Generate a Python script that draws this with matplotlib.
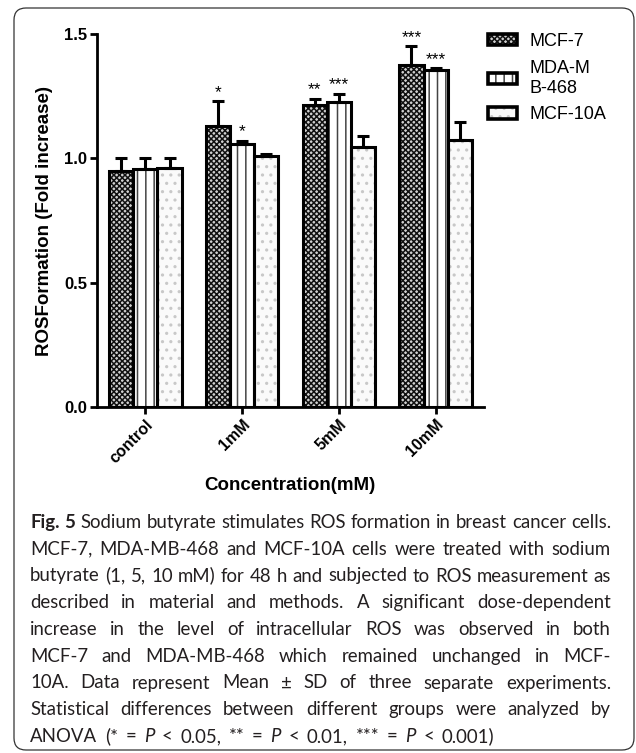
import matplotlib
matplotlib.use('Agg')
import matplotlib.pyplot as plt
import matplotlib.patches as mpatches
from matplotlib.transforms import IdentityTransform
import numpy as np

# data
groups = ['control', '1mM', '5mM', '10mM']
legend_labels = ['MCF-7', 'MDA-M\nB-468', 'MCF-10A']
mcf7 = [0.95, 1.13, 1.215, 1.375]
mcf7_sd = [0.05, 0.10, 0.025, 0.075]
mda = [0.956, 1.057, 1.225, 1.355]
mda_sd = [0.045, 0.013, 0.035, 0.007]
mcf10a = [0.96, 1.01, 1.047, 1.073]
mcf10a_sd = [0.04, 0.006, 0.043, 0.074]
stars_mcf7 = ['', '*', '**', '***']
stars_mda = ['', '*', '***', '***']
stars_mcf10a = ['', '', '', '']

caption = [
    "Fig. 5 Sodium butyrate stimulates ROS formation in breast cancer cells.",
    "MCF-7, MDA-MB-468 and MCF-10A cells were treated with sodium",
    "butyrate (1, 5, 10 mM) for 48 h and subjected to ROS measurement as",
    "described in material and methods. A significant dose-dependent",
    "increase in the level of intracellular ROS was observed in both",
    "MCF-7 and MDA-MB-468 which remained unchanged in MCF-",
    "10A. Data represent Mean \u00b1 SD of three separate experiments.",
    "Statistical differences between different groups were analyzed by",
    "ANOVA (* = P < 0.05, ** = P < 0.01, *** = P < 0.001)",
]

W, H = 636, 753
plt.rcParams['font.family'] = ['Liberation Sans', 'DejaVu Sans']
plt.rcParams['hatch.linewidth'] = 1.1

fig = plt.figure(figsize=(W / 100, H / 100), dpi=100)
ax = fig.add_axes([97 / W, 1 - 407 / H, (484 - 97) / W, (407 - 34) / H])

x = np.arange(len(groups))
width = 0.25
series = [
    (mcf7, mcf7_sd, stars_mcf7, '#d0d0d0', 'xxxxxx', '#111111'),
    (mda, mda_sd, stars_mda, 'white', '||', '#444444'),
    (mcf10a, mcf10a_sd, stars_mcf10a, '#fafafa', '..', '#c8c8c8'),
]
handles = []
for i, (vals, sd, stars, face, hatch, hcol) in enumerate(series):
    pos = x + (i - 1) * width
    ax.bar(pos, vals, width, color=face, hatch=hatch, edgecolor=hcol, linewidth=0, zorder=2)
    ax.bar(pos, vals, width, fill=False, edgecolor='black', linewidth=2.2, zorder=3)
    ax.errorbar(pos, vals, yerr=[np.zeros(len(sd)), sd], fmt='none', ecolor='black',
                elinewidth=2.2, capsize=4.5, capthick=2.2, zorder=4)
    for p, v, s, st in zip(pos, vals, sd, stars):
        if st:
            ax.annotate(st, (p, v + s), xytext=(0, 1), textcoords='offset points',
                        ha='center', va='bottom', fontsize=12.5, clip_on=False)
    handles.append((mpatches.Patch(facecolor=face, hatch=hatch, edgecolor=hcol, linewidth=0),
                    mpatches.Patch(fill=False, edgecolor='black', linewidth=2.6)))

ax.set_xlim(-0.5, 3.5)
ax.set_ylim(0, 1.5)
ax.set_yticks([0, 0.5, 1.0, 1.5])
ax.set_yticklabels(['0.0', '0.5', '1.0', '1.5'], fontsize=12, fontweight='bold')
ax.set_xticks(x)
ax.set_xticklabels(groups, rotation=45, ha='right', rotation_mode='anchor',
                   fontsize=11.5, fontweight='bold')
ax.tick_params(axis='both', width=2, length=5, direction='out', pad=2)
for side in ['top', 'right']:
    ax.spines[side].set_visible(False)
for side in ['left', 'bottom']:
    ax.spines[side].set_linewidth(2)
ax.set_ylabel('ROSFormation (Fold increase)', fontsize=13.5, fontweight='bold', labelpad=8)
fig.text(290 / W, 1 - 486 / H, 'Concentration(mM)', fontsize=13.5, fontweight='bold',
         ha='center', va='center')

fig.legend(handles, legend_labels, loc='upper left', bbox_to_anchor=(488 / W, 1 - 33 / H),
           frameon=False, fontsize=13, handlelength=1.6, handleheight=0.6,
           handletextpad=0.7, labelspacing=0.55, borderaxespad=0, borderpad=0)

# rounded border around figure + caption
fig.patches.append(mpatches.FancyBboxPatch((14, 3), 620, 742,
                                           boxstyle='round,pad=0,rounding_size=12',
                                           transform=IdentityTransform(), fill=False,
                                           edgecolor='#333333', linewidth=0.9))

# justified caption
cap_font = ['Lato', 'DejaVu Sans']
renderer = fig.canvas.get_renderer()


def measure(s, size, weight='normal', style='normal'):
    t = fig.text(0, 0, s, fontsize=size, family=cap_font, fontweight=weight, fontstyle=style)
    w = t.get_window_extent(renderer).width
    t.remove()
    return w


def tokens(line_no, line):
    out = []
    for j, w in enumerate(line.split(' ')):
        weight = 'bold' if line_no == 0 and j < 2 else 'normal'
        style = 'italic' if w == 'P' else 'normal'
        out.append((w, weight, style))
    return out


x0, x1 = 30, 611
base = 12
space = measure('x x', base) - measure('xx', base)
widest = 0
for k, line in enumerate(caption[:-1]):
    toks = tokens(k, line)
    nat = sum(measure(w, base, wt, st) for w, wt, st in toks) + space * (len(toks) - 1)
    widest = max(widest, nat)
size = base * (x1 - x0) / widest * 0.995
space = measure('x x', size) - measure('xx', size)

for k, line in enumerate(caption):
    toks = tokens(k, line)
    widths = [measure(w, size, wt, st) for w, wt, st in toks]
    if k < len(caption) - 1:
        gap = (x1 - x0 - sum(widths)) / (len(toks) - 1)
    else:
        gap = space * 1.6
    xp = x0
    yb = 528 + k * 26.75
    for (w, wt, st), ww in zip(toks, widths):
        fig.text(xp / W, 1 - yb / H, w, fontsize=size, family=cap_font, fontweight=wt,
                 fontstyle=st, color='#231f20', ha='left', va='baseline')
        xp += ww + gap

fig.savefig('out.png', dpi=100)
